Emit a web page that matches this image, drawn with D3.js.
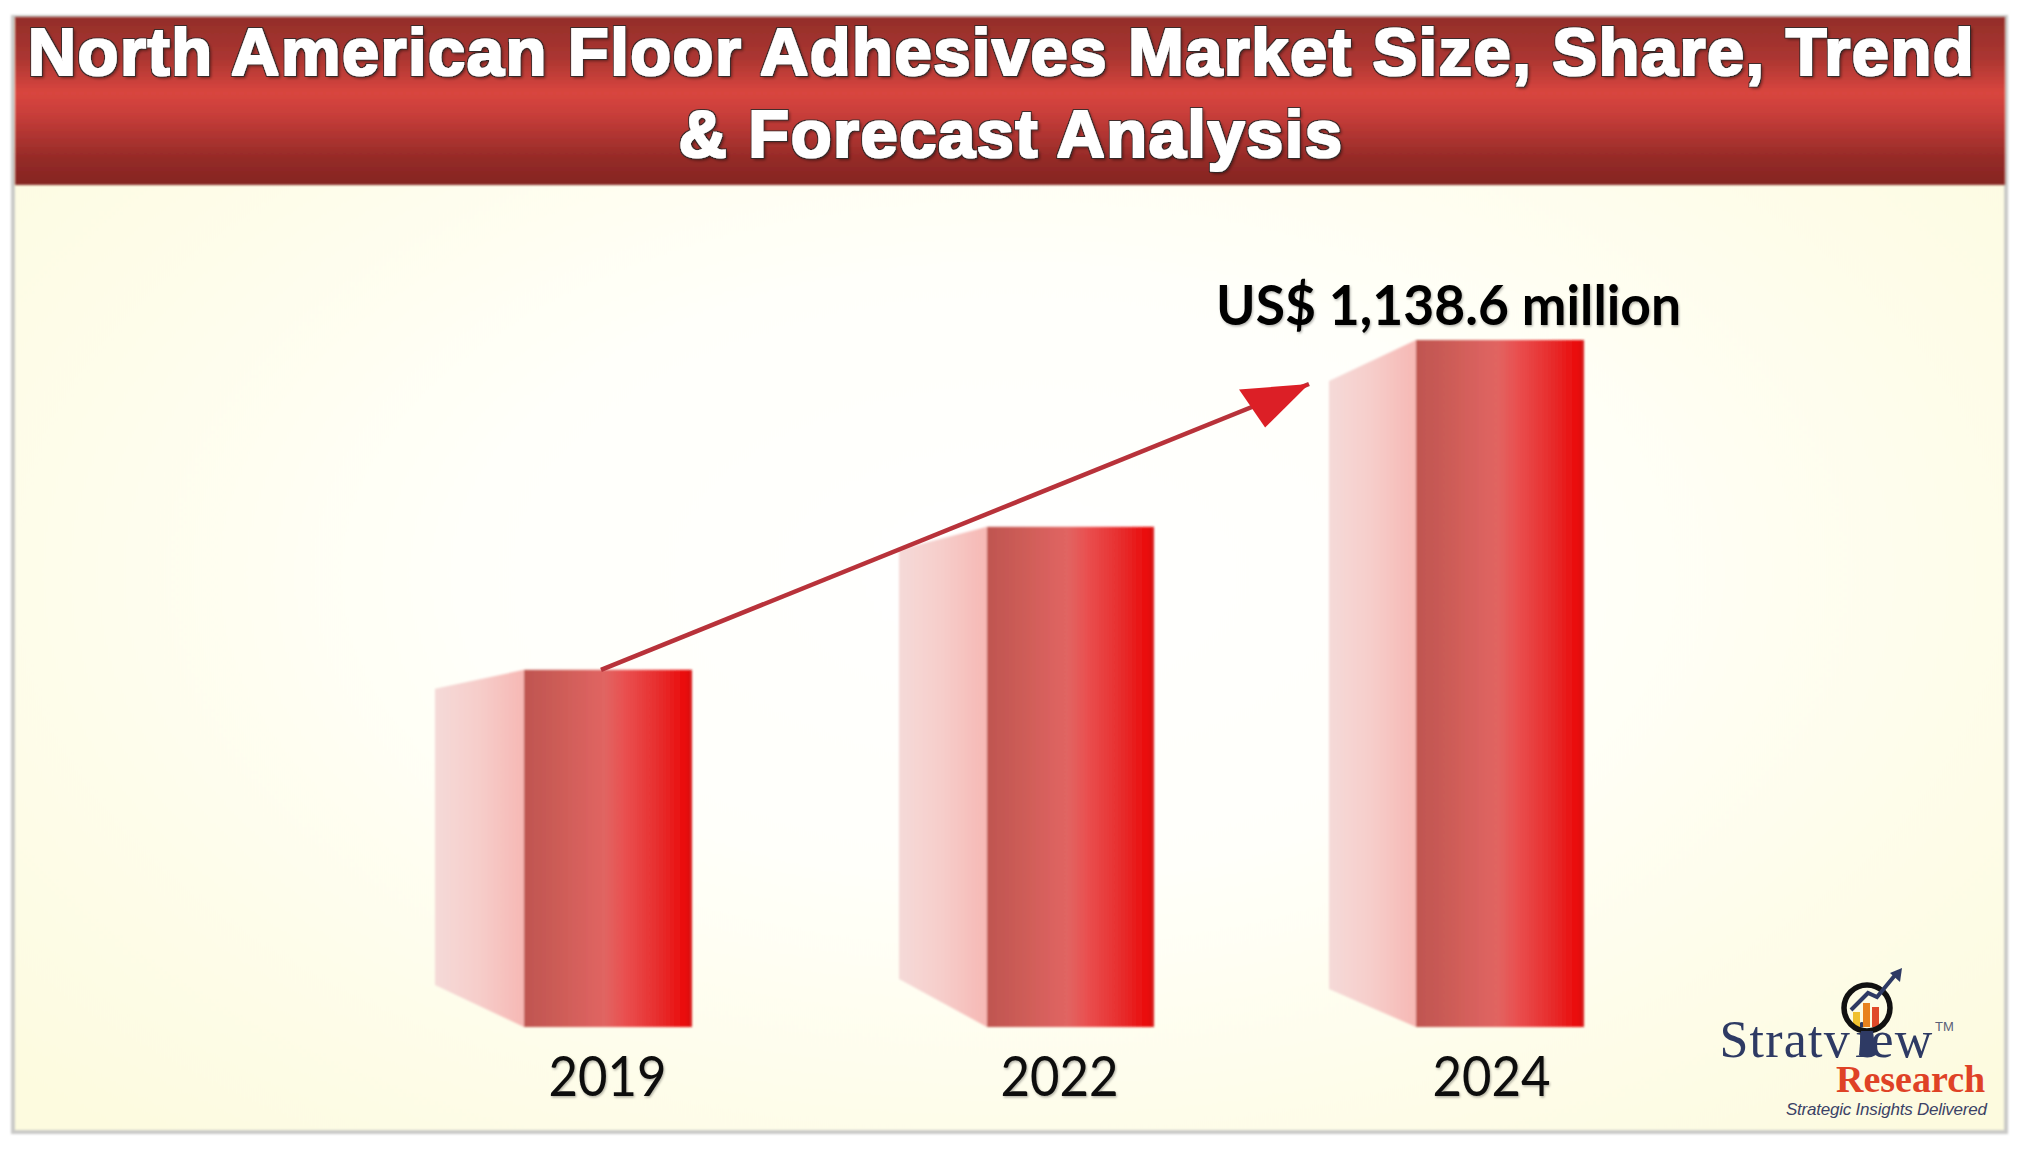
<!DOCTYPE html>
<html>
<head>
<meta charset="utf-8">
<style>
html, body { margin: 0; padding: 0; background: #fff; }
svg { display: block; }
.year text { font-family: Lato, sans-serif; font-size: 56px; fill: #0a0a0a; }
</style>
<script src="https://cdn.jsdelivr.net/npm/d3@7"></script>
</head>
<body>
<svg id="chart" width="2020" height="1151"></svg>
<script>
var titleLines = ['North American Floor Adhesives Market Size, Share, Trend', '& Forecast Analysis'];
var years = ['2019', '2022', '2024'];
var marketSize = [592, 829, 1138.6];
var valueLabel = 'US$ 1,138.6 million';

var svg = d3.select('#chart');
var defs = svg.append('defs');

function addGradient(id, type, stops, attrs) {
    var g = defs.append(type).attr('id', id);
    Object.keys(attrs).forEach(function(k) { g.attr(k, attrs[k]); });
    stops.forEach(function(s) {
        g.append('stop').attr('offset', s[0]).attr('stop-color', s[1]);
    });
}

addGradient('panelFill', 'radialGradient',
    [[0, '#ffffff'], [0.4, '#fffffa'], [0.72, '#fefdea'], [1, '#fdfbdf']],
    {cx: '0.5', cy: '0.5', r: '0.68'});
addGradient('headerFill', 'linearGradient',
    [[0, '#932e2a'], [0.25, '#ac3631'], [0.45, '#d9463f'], [0.58, '#c83e3a'], [0.85, '#942a27'], [1, '#852522']],
    {x1: 0, y1: 0, x2: 0, y2: 1});
addGradient('frontFill', 'linearGradient',
    [[0, '#bf5650'], [0.15, '#c95a55'], [0.48, '#e16562'], [0.6, '#e95050'], [0.82, '#e72a2a'], [0.96, '#ea0b0b'], [1, '#d41818']],
    {x1: 0, y1: 0, x2: 1, y2: 0});
addGradient('sideFill', 'linearGradient',
    [[0, '#f5dad8'], [0.5, '#f6cdca'], [1, '#f7b8b4']],
    {x1: 0, y1: 0, x2: 1, y2: 0});

var soft = defs.append('filter').attr('id', 'soft');
soft.append('feGaussianBlur').attr('stdDeviation', 0.8);

var frameBlur = defs.append('filter').attr('id', 'frameBlur');
frameBlur.append('feGaussianBlur').attr('stdDeviation', 1.2);

// white glyphs fattened a little, thin dark outline, drop shadow
var titleFx = defs.append('filter').attr('id', 'titleFx').attr('x', '-3%').attr('y', '-20%').attr('width', '106%').attr('height', '150%');
titleFx.append('feMorphology').attr('in', 'SourceAlpha').attr('operator', 'dilate').attr('radius', 1).attr('result', 'fat');
titleFx.append('feMorphology').attr('in', 'SourceAlpha').attr('operator', 'dilate').attr('radius', 2).attr('result', 'fatter');
titleFx.append('feGaussianBlur').attr('in', 'fatter').attr('stdDeviation', 0.5).attr('result', 'edgeBlur');
titleFx.append('feFlood').attr('flood-color', '#2a2a2a').attr('flood-opacity', 0.85).attr('result', 'dark');
titleFx.append('feComposite').attr('in', 'dark').attr('in2', 'edgeBlur').attr('operator', 'in').attr('result', 'edge');
titleFx.append('feOffset').attr('in', 'fat').attr('dx', 1.5).attr('dy', 2).attr('result', 'off');
titleFx.append('feGaussianBlur').attr('in', 'off').attr('stdDeviation', 1.5).attr('result', 'offBlur');
titleFx.append('feFlood').attr('flood-color', '#000').attr('flood-opacity', 0.45).attr('result', 'shade');
titleFx.append('feComposite').attr('in', 'shade').attr('in2', 'offBlur').attr('operator', 'in').attr('result', 'shadow');
titleFx.append('feFlood').attr('flood-color', '#fff').attr('result', 'white');
titleFx.append('feComposite').attr('in', 'white').attr('in2', 'fat').attr('operator', 'in').attr('result', 'body');
var titleMerge = titleFx.append('feMerge');
titleMerge.append('feMergeNode').attr('in', 'shadow');
titleMerge.append('feMergeNode').attr('in', 'edge');
titleMerge.append('feMergeNode').attr('in', 'body');

var labelShadow = defs.append('filter').attr('id', 'labelShadow').attr('x', '-5%').attr('y', '-20%').attr('width', '110%').attr('height', '140%');
labelShadow.append('feDropShadow').attr('dx', 1).attr('dy', 1.5).attr('stdDeviation', 1.2).attr('flood-color', '#000').attr('flood-opacity', 0.3);

defs.append('marker').attr('id', 'arrowHead')
    .attr('markerUnits', 'userSpaceOnUse')
    .attr('viewBox', '0 -25 68 50')
    .attr('refX', 68).attr('refY', 0)
    .attr('markerWidth', 68).attr('markerHeight', 50)
    .attr('orient', 'auto')
    .append('path').attr('d', 'M1,-21L68,0L11,24Z').attr('fill', '#dc1f26');

// frame and header
svg.append('rect').attr('x', 13).attr('y', 17).attr('width', 1993).attr('height', 1115)
    .attr('fill', 'url(#panelFill)').attr('stroke', '#c9c9c7').attr('stroke-width', 4).attr('filter', 'url(#frameBlur)');
svg.append('rect').attr('x', 15).attr('y', 17).attr('width', 1990).attr('height', 168)
    .attr('fill', 'url(#headerFill)').attr('filter', 'url(#soft)');

svg.selectAll('text.title').data(titleLines).enter().append('text')
    .attr('class', 'title')
    .attr('x', function(d, i) { return i ? 1011 : 1001.5; })
    .attr('y', function(d, i) { return 75 + i * 82; })
    .attr('text-anchor', 'middle')
    .attr('font-family', '"Liberation Sans", Arial, sans-serif')
    .attr('font-weight', 700)
    .attr('font-size', 67)
    .attr('letter-spacing', 1.42)
    .attr('fill', '#fff')
    .attr('filter', 'url(#titleFx)')
    .text(function(d) { return d; });

// bars are not evenly spaced in the original so the scales are ordinal
var xFront = d3.scaleOrdinal().domain(years).range([524, 987, 1416]);
var xYear = d3.scaleOrdinal().domain(years).range([607, 1059, 1491]);
var frontWidth = d3.scaleOrdinal().domain(years).range([168, 167, 168]);
var sideDepth = d3.scaleOrdinal().domain(years).range([89, 88, 87]);
var sideTopDrop = d3.scaleOrdinal().domain(years).range([19, 23, 41]);
var sideBottomRise = d3.scaleOrdinal().domain(years).range([42, 48, 38]);
var yScale = d3.scaleLinear().domain([0, 1138.6]).range([1027, 340]);

var barData = years.map(function(y, i) { return {year: y, value: marketSize[i]}; });

var bars = svg.selectAll('g.bar').data(barData).enter().append('g').attr('class', 'bar').attr('filter', 'url(#soft)');

bars.append('path')
    .attr('fill', 'url(#sideFill)')
    .attr('d', function(d) {
        var x1 = xFront(d.year), x0 = x1 - sideDepth(d.year), top = yScale(d.value), base = yScale(0);
        return d3.line()([[x0, top + sideTopDrop(d.year)], [x1, top], [x1, base], [x0, base - sideBottomRise(d.year)]]) + 'Z';
    });

bars.append('rect')
    .attr('x', function(d) { return xFront(d.year); })
    .attr('y', function(d) { return yScale(d.value); })
    .attr('width', function(d) { return frontWidth(d.year); })
    .attr('height', function(d) { return yScale(0) - yScale(d.value); })
    .attr('fill', 'url(#frontFill)');

// trend arrow from top of first bar
svg.append('path')
    .attr('d', d3.line()([[xFront(years[0]) + 77, yScale(marketSize[0])], [1309, 384]]))
    .attr('stroke', '#b8323a')
    .attr('stroke-width', 4.5)
    .attr('fill', 'none')
    .attr('marker-end', 'url(#arrowHead)');

svg.append('text')
    .attr('x', 1448.5).attr('y', 325)
    .attr('text-anchor', 'middle')
    .attr('font-family', 'Lato, sans-serif')
    .attr('font-weight', 700)
    .attr('font-size', 56)
    .attr('textLength', 465)
    .attr('lengthAdjust', 'spacingAndGlyphs')
    .attr('fill', '#050505')
    .attr('filter', 'url(#labelShadow)')
    .text(valueLabel);

var axis = d3.axisBottom(xYear).tickSize(0).tickPadding(0);
var axisG = svg.append('g').attr('class', 'year').attr('transform', 'translate(0,1051)').call(axis);
axisG.select('.domain').remove();
axisG.selectAll('text')
    .attr('dy', 0).attr('y', 45)
    .attr('textLength', 118)
    .attr('lengthAdjust', 'spacingAndGlyphs')
    .attr('filter', 'url(#labelShadow)');

// logo
var logo = svg.append('g').attr('class', 'logo');
var navy = '#2e3a64';

var word = logo.append('text')
    .attr('x', 1719.5).attr('y', 1057)
    .attr('font-family', '"Liberation Serif", serif')
    .attr('font-size', 52)
    .attr('letter-spacing', 1.2)
    .attr('fill', navy);
word.append('tspan').text('Stratv');
word.append('tspan').attr('dx', 4).text('iew');

logo.append('text').attr('x', 1935).attr('y', 1031)
    .attr('font-family', '"Liberation Sans", sans-serif').attr('font-size', 13)
    .attr('fill', '#5a5f78').text('TM');

logo.selectAll('rect.mini').data([
    {x: 1853, y: 1012, h: 15, c: '#f0c12f'},
    {x: 1863, y: 1003, h: 24, c: '#e8821e'},
    {x: 1872, y: 1007, h: 20, c: '#e04a2a'}
]).enter().append('rect').attr('class', 'mini')
    .attr('x', function(d) { return d.x; }).attr('y', function(d) { return d.y; })
    .attr('width', 7).attr('height', function(d) { return d.h; })
    .attr('fill', function(d) { return d.c; });

logo.append('circle').attr('cx', 1867).attr('cy', 1008).attr('r', 23)
    .attr('fill', 'none').attr('stroke', '#111').attr('stroke-width', 5.5);
logo.append('path').attr('d', 'M1861,1031L1873,1031L1876,1055Q1867,1060 1859,1055Z').attr('fill', navy);
logo.append('path').attr('d', 'M1851,1010L1868,993L1877,997L1896,974')
    .attr('fill', 'none').attr('stroke', navy).attr('stroke-width', 4);
logo.append('path').attr('d', 'M1890,973L1902,968L1900,982Z').attr('fill', navy);

logo.append('text').attr('x', 1836).attr('y', 1092)
    .attr('font-family', '"Liberation Serif", serif').attr('font-weight', 700)
    .attr('font-size', 38).attr('fill', '#df4226').text('Research');

logo.append('text').attr('x', 1786).attr('y', 1115)
    .attr('font-family', '"Liberation Sans", sans-serif').attr('font-style', 'italic')
    .attr('font-size', 17).attr('textLength', 201).attr('fill', '#3b4266')
    .text('Strategic Insights Delivered');
</script>
</body>
</html>
